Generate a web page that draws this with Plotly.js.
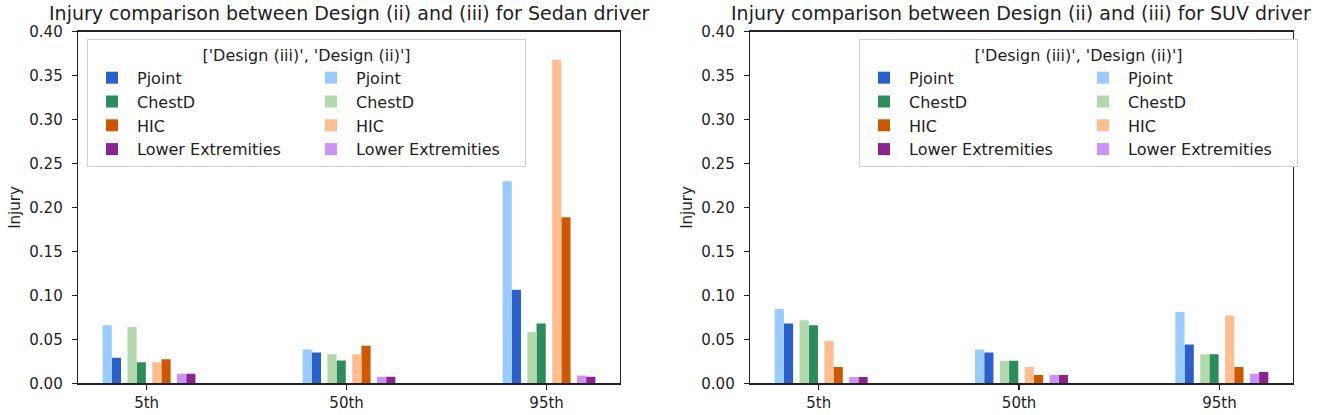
<!DOCTYPE html>
<html>
<head>
<meta charset="utf-8">
<script src="https://cdn.plot.ly/plotly-3.0.1.min.js"></script>
<style>
  html, body { margin: 0; padding: 0; background: #fff; }
  #plotly { width: 1325px; height: 415px; }
</style>
</head>
<body>
<div id="plotly"></div>
<script>
// categories on the x axis
var categories = ['5th', '50th', '95th'];
var metrics = ['Pjoint', 'ChestD', 'HIC', 'Lower Extremities'];

// Sedan driver, Design (ii) and Design (iii)
var sedanPjointII = [0.066, 0.0385, 0.230];
var sedanPjointIII = [0.029, 0.035, 0.1065];
var sedanChestII = [0.064, 0.033, 0.0585];
var sedanChestIII = [0.024, 0.026, 0.068];
var sedanHicII = [0.024, 0.033, 0.368];
var sedanHicIII = [0.0275, 0.0427, 0.189];
var sedanLowerII = [0.011, 0.0075, 0.009];
var sedanLowerIII = [0.011, 0.0075, 0.0075];

// SUV driver, Design (ii) and Design (iii)
var suvPjointII = [0.0846, 0.0385, 0.081];
var suvPjointIII = [0.068, 0.035, 0.044];
var suvChestII = [0.0717, 0.0257, 0.033];
var suvChestIII = [0.066, 0.0257, 0.033];
var suvHicII = [0.048, 0.0185, 0.077];
var suvHicIII = [0.0185, 0.0094, 0.0185];
var suvLowerII = [0.0072, 0.0094, 0.011];
var suvLowerIII = [0.0072, 0.0094, 0.0128];

var darkColors = ['#2a60cc', '#2d8c5c', '#cc5800', '#8c2190'];
var lightColors = ['#99cbff', '#b1d9ab', '#ffbe90', '#c993f7'];

var barWidth = 0.046;
var pairStep = 0.124;
var groupStart = -0.22;
var xPos = [0, 1, 2];

function panelTraces(seriesII, seriesIII, xaxis, yaxis, legendName) {
  var traces = [];
  // Design (iii) first -> first legend column
  for (var k = 0; k < metrics.length; k++) {
    traces.push({
      type: 'bar', x: xPos, y: seriesIII[k], name: metrics[k],
      offset: groupStart + k * pairStep + barWidth, width: barWidth,
      marker: { color: darkColors[k], line: { width: 0 } },
      xaxis: xaxis, yaxis: yaxis, legend: legendName,
      legendgroup: legendName + 'iii', hoverinfo: 'y+name'
    });
  }
  for (var k = 0; k < metrics.length; k++) {
    traces.push({
      type: 'bar', x: xPos, y: seriesII[k], name: metrics[k],
      offset: groupStart + k * pairStep, width: barWidth,
      marker: { color: lightColors[k], line: { width: 0 } },
      xaxis: xaxis, yaxis: yaxis, legend: legendName,
      legendgroup: legendName + 'ii', hoverinfo: 'y+name'
    });
  }
  return traces;
}

var data = panelTraces(
  [sedanPjointII, sedanChestII, sedanHicII, sedanLowerII],
  [sedanPjointIII, sedanChestIII, sedanHicIII, sedanLowerIII],
  'x', 'y', 'legend'
).concat(panelTraces(
  [suvPjointII, suvChestII, suvHicII, suvLowerII],
  [suvPjointIII, suvChestIII, suvHicIII, suvLowerIII],
  'x2', 'y2', 'legend2'
));

var W = 1325, H = 415;
var font = 'DejaVu Sans, sans-serif';
var yDomain = [1 - 383.3 / H, 1 - 31.7 / H];
var xRange = [-0.3432, 2.3672];

function xAxis(domain, anchor) {
  return {
    domain: domain, anchor: anchor, range: xRange,
    tickvals: xPos, ticktext: categories,
    ticks: 'outside', ticklen: 5, tickwidth: 1.2, tickcolor: '#222',
    showline: true, mirror: true, linecolor: '#222', linewidth: 1.3,
    showgrid: false, zeroline: false, automargin: false,
    tickfont: { family: font, size: 15, color: '#222' }
  };
}
function yAxis(anchor) {
  return {
    domain: yDomain, anchor: anchor, range: [0, 0.4],
    tick0: 0, dtick: 0.05, tickformat: '.2f',
    ticks: 'outside', ticklen: 5, tickwidth: 1.2, tickcolor: '#222',
    ticklabelstandoff: 6,
    showline: true, mirror: true, linecolor: '#222', linewidth: 1.3,
    showgrid: false, zeroline: false, automargin: false,
    tickfont: { family: font, size: 15, color: '#222' },
    title: { text: 'Injury', font: { family: font, size: 15, color: '#222' }, standoff: 5 }
  };
}
function legendBox(x) {
  return {
    x: x, y: 1 - 39 / H, xanchor: 'left', yanchor: 'top',
    orientation: 'h', itemwidth: 40, entrywidth: 164, entrywidthmode: 'pixels',
    bgcolor: '#fff', bordercolor: '#d0d0d0', borderwidth: 1,
    font: { family: font, size: 16, color: '#222' },
    title: { text: "['Design (iii)', 'Design (ii)']", side: 'top center',
             font: { family: font, size: 16, color: '#222' } },
    tracegroupgap: 0
  };
}

var layout = {
  width: W, height: H,
  margin: { l: 0, r: 0, t: 0, b: 0, autoexpand: false },
  paper_bgcolor: '#fff', plot_bgcolor: '#fff',
  barmode: 'overlay',
  showlegend: true,
  xaxis: xAxis([78 / W, 620 / W], 'y'),
  yaxis: yAxis('x'),
  xaxis2: xAxis([750 / W, 1293 / W], 'y2'),
  yaxis2: yAxis('x2'),
  legend: legendBox(87 / W),
  legend2: legendBox(859 / W),
  annotations: [
    { text: 'Injury comparison between Design (ii) and (iii) for Sedan driver',
      xref: 'paper', yref: 'paper', x: 349 / W, y: 1 - 13 / H,
      xanchor: 'center', yanchor: 'middle', showarrow: false,
      font: { family: font, size: 19, color: '#222' } },
    { text: 'Injury comparison between Design (ii) and (iii) for SUV driver',
      xref: 'paper', yref: 'paper', x: 1021 / W, y: 1 - 13 / H,
      xanchor: 'center', yanchor: 'middle', showarrow: false,
      font: { family: font, size: 19, color: '#222' } }
  ]
};

Plotly.newPlot('plotly', data, layout, { displayModeBar: false, staticPlot: true });
</script>
</body>
</html>
